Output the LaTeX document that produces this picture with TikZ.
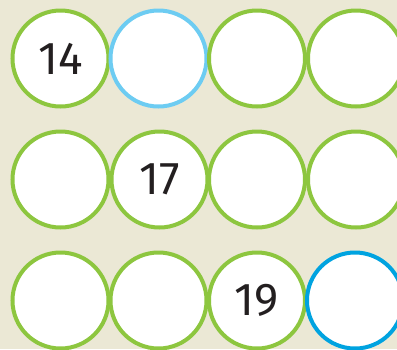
\documentclass[tikz,border=0pt]{standalone}
\usepackage{fontspec}
\setmainfont{Fira Sans}
\definecolor{bg}{HTML}{EBE8D5}
\definecolor{ringgreen}{HTML}{8DC63F}
\definecolor{ringlight}{HTML}{6DCCF2}
\definecolor{ringblue}{HTML}{00A3E0}
\definecolor{numtext}{HTML}{231F20}
\tikzset{
  ring/.style={circle, draw=ringgreen, line width=4pt, fill=white, minimum size=96pt, inner sep=0pt,
    font=\fontsize{46}{50}\selectfont, text=numtext},
}
\begin{document}
\begin{tikzpicture}[x=1pt,y=1pt]
\fill[bg] (0,0) rectangle (397,-349);
\useasboundingbox (0,0) rectangle (397,-349);
% row 1
\node[ring] (a1) at (60.5,-58.5) {14};
\node[ring, draw=ringlight] (a2) at (158.5,-58.5) {};
\node[ring] (a3) at (257,-58.5) {};
\node[ring] (a4) at (356,-58.5) {};
% row 2
\node[ring] (b1) at (60.5,-179.5) {};
\node[ring] (b2) at (159.5,-179.5) {17};
\node[ring] (b3) at (257,-179.5) {};
\node[ring] (b4) at (356,-179.5) {};
% row 3
\node[ring] (c1) at (60.5,-300.5) {};
\node[ring] (c2) at (158.5,-300.5) {};
\node[ring] (c3) at (257,-300.5) {19};
\node[ring, draw=ringblue] (c4) at (355,-300.5) {};
\end{tikzpicture}
\end{document}
